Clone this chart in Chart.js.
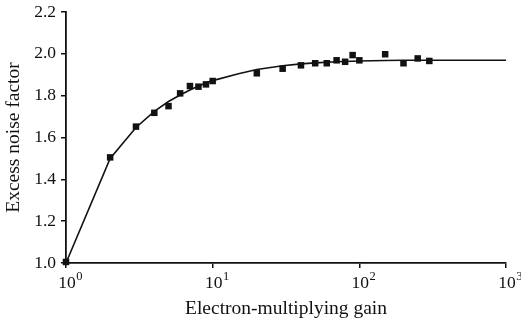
<!DOCTYPE html>
<html>
<head>
<meta charset="utf-8">
<script src="https://cdn.jsdelivr.net/npm/chart.js@4"></script>
<style>
  html, body { margin: 0; padding: 0; background: #fff; }
  #wrap { width: 521px; height: 323px; }
</style>
</head>
<body>
<div id="wrap"><canvas id="enfChart"></canvas></div>
<script>
// measured points
const gain = [1, 2, 3, 4, 5, 6, 7, 8, 9, 10, 20, 30, 40, 50, 60, 70, 80, 90, 100, 150, 200, 250, 300];
const enf  = [1.005, 1.505, 1.652, 1.718, 1.750, 1.811, 1.846, 1.843, 1.854, 1.870, 1.907, 1.929, 1.945,
              1.955, 1.955, 1.969, 1.962, 1.994, 1.969, 1.998, 1.955, 1.978, 1.966];

// fitted curve
const fitGain = [1, 2, 3, 4, 5, 6, 7, 8, 9, 10, 15, 20, 30, 40, 50, 70, 100, 150, 200, 300, 500, 1000];
const fitEnf  = [1.00, 1.50, 1.648, 1.725, 1.772, 1.803, 1.827, 1.846, 1.860, 1.872, 1.905, 1.925,
                 1.943, 1.952, 1.957, 1.962, 1.966, 1.968, 1.969, 1.969, 1.969, 1.969];

const xTicks = [1, 10, 100, 1000];
const xExp   = ['0', '1', '2', '3'];
const yTicks = [1.0, 1.2, 1.4, 1.6, 1.8, 2.0, 2.2];

const FONT = "'Liberation Serif', 'Times New Roman', serif";
const INK  = '#111';

// x tick labels as 10 with a raised exponent
const powerLabels = {
    id: 'powerLabels',
    afterDraw(chart) {
        const ctx = chart.ctx;
        const x = chart.scales.x;
        const base = x.top + 25;
        ctx.save();
        ctx.fillStyle = INK;
        ctx.textBaseline = 'alphabetic';
        xTicks.forEach((v, i) => {
            const px = x.getPixelForValue(v);
            ctx.font = '17.5px ' + FONT;
            ctx.textAlign = 'center';
            ctx.fillText('10', px + 1, base);
            const w = ctx.measureText('10').width;
            ctx.font = '12.5px ' + FONT;
            ctx.textAlign = 'left';
            ctx.fillText(xExp[i], px + 1 + w / 2 + 0.5, base - 8);
        });
        ctx.restore();
    }
};

const pts = gain.map((g, i) => ({ x: g, y: enf[i] }));
const fit = fitGain.map((g, i) => ({ x: g, y: fitEnf[i] }));

new Chart(document.getElementById('enfChart'), {
    type: 'scatter',
    data: {
        datasets: [
            {
                label: 'Measured',
                data: pts,
                pointStyle: 'rect',
                pointRadius: 4.6,
                pointBackgroundColor: INK,
                pointBorderColor: INK,
                pointBorderWidth: 0,
                showLine: false,
                clip: false,
                order: 0
            },
            {
                label: 'Fit',
                data: fit,
                showLine: true,
                borderColor: INK,
                borderWidth: 1.6,
                pointRadius: 0,
                tension: 0,
                clip: false,
                order: 1
            }
        ]
    },
    options: {
        responsive: true,
        maintainAspectRatio: false,
        animation: false,
        events: [],
        layout: { padding: { left: 0, right: 15, top: 12, bottom: 0 } },
        plugins: {
            legend: { display: false },
            tooltip: { enabled: false }
        },
        scales: {
            x: {
                type: 'logarithmic',
                min: 1,
                max: 1000,
                afterBuildTicks: s => { s.ticks = xTicks.map(v => ({ value: v })); },
                afterFit: s => { s.height = 60; s.paddingLeft = 0; s.paddingRight = 0; },
                grid: { display: true, drawOnChartArea: false, drawTicks: true, tickLength: 5, color: INK, lineWidth: 1.5 },
                border: { display: true, color: INK, width: 1.8 },
                ticks: { display: false },
                title: {
                    display: true,
                    text: 'Electron-multiplying gain',
                    color: INK,
                    font: { family: FONT, size: 19.5 },
                    padding: { top: 0, bottom: 2 }
                }
            },
            y: {
                min: 1.0,
                max: 2.2,
                afterBuildTicks: s => { s.ticks = yTicks.map(v => ({ value: v })); },
                afterFit: s => { s.width = 66; s.paddingTop = 0; s.paddingBottom = 0; },
                grid: { display: true, drawOnChartArea: false, drawTicks: true, tickLength: 5, color: INK, lineWidth: 1.5 },
                border: { display: true, color: INK, width: 1.8 },
                ticks: {
                    color: INK,
                    padding: 5,
                    font: { family: FONT, size: 17.5 },
                    callback: v => v.toFixed(1)
                },
                title: {
                    display: true,
                    text: 'Excess noise factor',
                    color: INK,
                    font: { family: FONT, size: 19.5 },
                    padding: { top: 2, bottom: 0 }
                }
            }
        }
    },
    plugins: [powerLabels]
});
</script>
</body>
</html>
